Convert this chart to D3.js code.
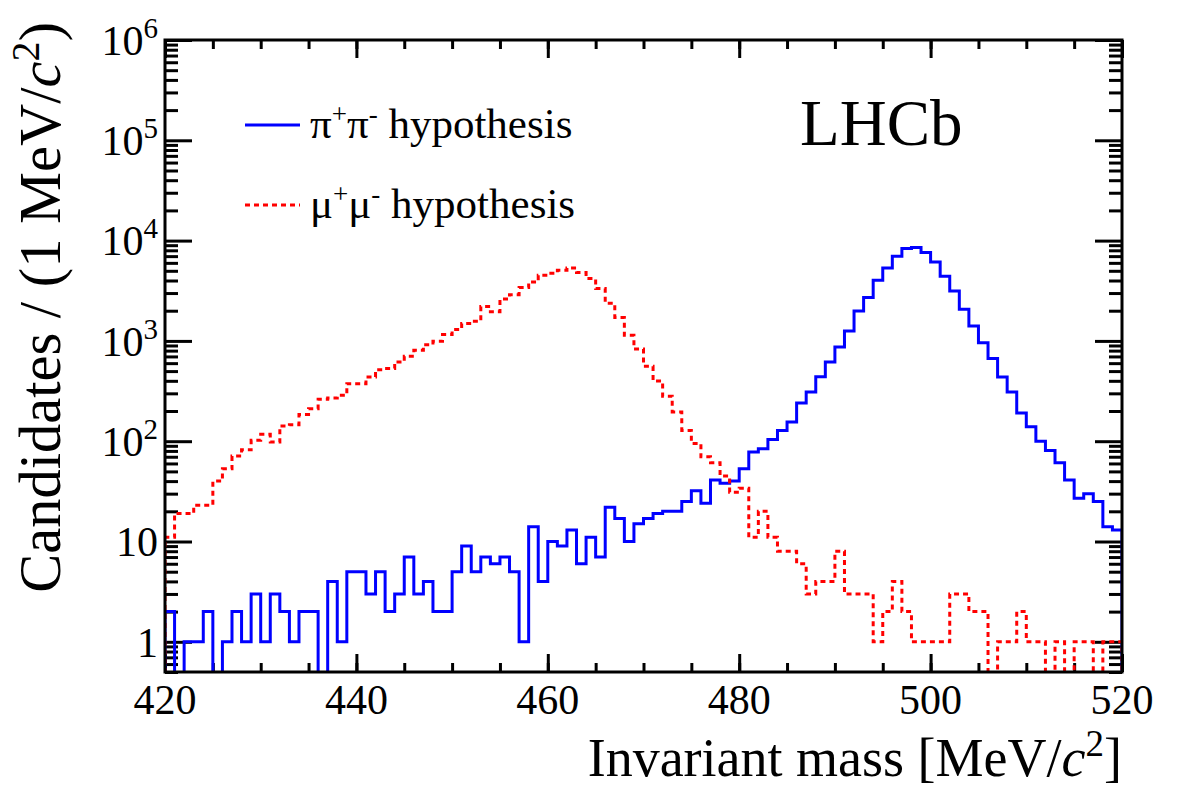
<!DOCTYPE html>
<html>
<head>
<meta charset="utf-8">
<script src="https://cdn.jsdelivr.net/npm/d3@7/dist/d3.min.js"></script>
<style>
  body { margin: 0; background: #fff; }
  text { font-family: "Liberation Serif", "Times New Roman", serif; fill: #000; }
</style>
</head>
<body>
<svg id="chart" width="1182" height="800"></svg>
<script>
// binning: 1 MeV bins from 420 to 520
var massLow = 420, massHigh = 520, binWidth = 1;

// pi+ pi- hypothesis (blue, solid)
var pipiCounts = [
  2, 0, 1, 1, 2, 0, 1, 2, 1, 3,
  1, 3, 2, 1, 2, 2, 0, 4, 1, 5,
  5, 3, 5, 2, 3, 7, 3, 4, 2, 2,
  5, 9, 5, 7, 6, 7, 5, 1, 14, 4,
  10, 9, 13, 6, 11, 7, 22, 17, 10, 15,
  17, 19, 20, 20, 25, 32, 24, 41, 38, 40,
  53, 78, 84, 104, 128, 155, 240, 309, 440, 617,
  870, 1256, 1986, 2704, 4018, 5331, 6967, 8320, 8515, 7590,
  6120, 4405, 3150, 2066, 1409, 961, 667, 437, 309, 191,
  139, 100, 81, 61, 41, 27, 30, 25, 14, 13
];

// mu+ mu- hypothesis (red, dashed)
var mumuCounts = [
  11, 19, 19, 23, 23, 40, 53, 71, 82, 102,
  117, 98, 142, 146, 185, 211, 262, 270, 287, 375,
  375, 437, 517, 530, 617, 703, 806, 918, 991, 1156,
  1297, 1487, 1568, 2200, 1950, 2620, 2892, 3400, 3867, 4510,
  4720, 5056, 5331, 4800, 4178, 3321, 2370, 1710, 1138, 830,
  560, 398, 281, 196, 128, 95, 70, 61, 45, 31,
  34, 11, 20, 11, 8, 8, 6, 3, 4, 4,
  8, 3, 3, 3, 1, 2, 4, 2, 1, 1,
  1, 1, 3, 3, 2, 2, 0, 1, 1, 2,
  1, 1, 0, 1, 0, 1, 1, 0, 1, 1
];

var xTickValues = [420, 440, 460, 480, 500, 520];
var yTickExponents = [0, 1, 2, 3, 4, 5, 6];
var legendLabels = [
  {name: "\u03c0", sup1: "+", sup2: "-", rest: " hypothesis"},
  {name: "\u03bc", sup1: "+", sup2: "-", rest: " hypothesis"}
];

var svg = d3.select("#chart"),
    margin = {top: 40, right: 60, bottom: 128, left: 165},
    width = +svg.attr("width") - margin.left - margin.right,
    height = +svg.attr("height") - margin.top - margin.bottom,
    g = svg.append("g").attr("transform", "translate(" + margin.left + "," + margin.top + ")");

var x = d3.scaleLinear().domain([massLow, massHigh]).range([0, width]);
var y = d3.scaleLog().domain([0.5, 1e6]).range([height, 0]);

// ticks
var xMinor = d3.range(massLow, massHigh + 0.1, 5);
var yMajor = yTickExponents.map(function(e) { return Math.pow(10, e); });
var yMinor = [];
for (var e = -1; e < 6; e++) {
  for (var k = 2; k <= 9; k++) {
    var v = k * Math.pow(10, e);
    if (v >= 0.5 && v <= 1e6) yMinor.push(v);
  }
}

function tickAxis(axis, tx, ty) {
  var a = g.append("g")
      .attr("transform", "translate(" + tx + "," + ty + ")")
      .call(axis);
  a.select(".domain").remove();
  a.selectAll("line").attr("stroke", "#000").attr("stroke-width", 3);
  a.selectAll("text").remove();
}

tickAxis(d3.axisTop(x).tickValues(xMinor).tickSize(9), 0, height);
tickAxis(d3.axisTop(x).tickValues(xTickValues).tickSize(18), 0, height);
tickAxis(d3.axisBottom(x).tickValues(xMinor).tickSize(9), 0, 0);
tickAxis(d3.axisBottom(x).tickValues(xTickValues).tickSize(18), 0, 0);
tickAxis(d3.axisRight(y).tickValues(yMinor).tickSize(13), 0, 0);
tickAxis(d3.axisRight(y).tickValues(yMajor).tickSize(27), 0, 0);
tickAxis(d3.axisLeft(y).tickValues(yMinor).tickSize(13), width, 0);
tickAxis(d3.axisLeft(y).tickValues(yMajor).tickSize(27), width, 0);

// histograms
g.append("clipPath").attr("id", "plotClip")
  .append("rect").attr("x", 0).attr("y", 0).attr("width", width).attr("height", height);

function stepPoints(counts) {
  var pts = [[x(massLow), height + 10]];
  counts.forEach(function(c, i) {
    var lo = massLow + i * binWidth, hi = lo + binWidth;
    var py = c > 0 ? y(c) : height + 10;
    pts.push([x(lo), py], [x(hi), py]);
  });
  pts.push([x(massHigh), height + 10]);
  return pts;
}

var line = d3.line();

g.append("path")
    .attr("clip-path", "url(#plotClip)")
    .attr("fill", "none")
    .attr("stroke", "#0000ff")
    .attr("stroke-width", 3)
    .attr("d", line(stepPoints(pipiCounts)));

g.append("path")
    .attr("clip-path", "url(#plotClip)")
    .attr("fill", "none")
    .attr("stroke", "#ff0000")
    .attr("stroke-width", 3)
    .attr("stroke-dasharray", "5,4")
    .attr("d", line(stepPoints(mumuCounts)));

// frame
g.append("rect")
    .attr("width", width).attr("height", height)
    .attr("fill", "none").attr("stroke", "#000").attr("stroke-width", 3);

// x tick labels
g.selectAll(".xlab").data(xTickValues).enter().append("text")
    .attr("class", "xlab")
    .attr("x", function(d) { return x(d); })
    .attr("y", height + 42)
    .attr("text-anchor", "middle")
    .attr("font-size", 42)
    .text(function(d) { return d; });

// y tick labels
yTickExponents.forEach(function(e) {
  var t = g.append("text")
      .attr("x", -7)
      .attr("y", y(Math.pow(10, e)))
      .attr("dy", "0.35em")
      .attr("text-anchor", "end")
      .attr("font-size", 42);
  if (e === 0) t.text("1");
  else if (e === 1) t.text("10");
  else {
    t.append("tspan").text("10");
    t.append("tspan").attr("dy", -17).attr("font-size", 29).text(e);
  }
});

// axis titles
var xt = svg.append("text")
    .attr("x", 1122).attr("y", 776)
    .attr("text-anchor", "end")
    .attr("font-size", 54);
xt.append("tspan").text("Invariant mass [MeV/");
xt.append("tspan").attr("font-style", "italic").text("c");
xt.append("tspan").attr("dy", -20).attr("font-size", 37).text("2");
xt.append("tspan").attr("dy", 20).text("]");

var yt = svg.append("text")
    .attr("transform", "translate(60,22) rotate(-90)")
    .attr("text-anchor", "end")
    .attr("font-size", 58.5);
yt.append("tspan").text("Candidates / (1 MeV/");
yt.append("tspan").attr("font-style", "italic").text("c");
yt.append("tspan").attr("dy", -21).attr("font-size", 40).text("2");
yt.append("tspan").attr("dy", 21).text(")");

// legend
var legendStyles = [
  {color: "#0000ff", dash: null},
  {color: "#ff0000", dash: "5,4"}
];
legendLabels.forEach(function(d, i) {
  var ly = 125 + i * 80;
  svg.append("line")
      .attr("x1", 245).attr("x2", 300).attr("y1", ly).attr("y2", ly)
      .attr("stroke", legendStyles[i].color).attr("stroke-width", 3)
      .attr("stroke-dasharray", legendStyles[i].dash);
  var t = svg.append("text").attr("x", 310).attr("y", ly + 13).attr("font-size", 43);
  t.append("tspan").text(d.name);
  t.append("tspan").attr("dy", -15).attr("font-size", 27).text(d.sup1);
  t.append("tspan").attr("dy", 15).text(d.name);
  t.append("tspan").attr("dy", -15).attr("font-size", 27).text(d.sup2);
  t.append("tspan").attr("dy", 15).text(d.rest);
});

svg.append("text")
    .attr("x", 800).attr("y", 145)
    .attr("font-size", 65)
    .text("LHCb");
</script>
</body>
</html>
